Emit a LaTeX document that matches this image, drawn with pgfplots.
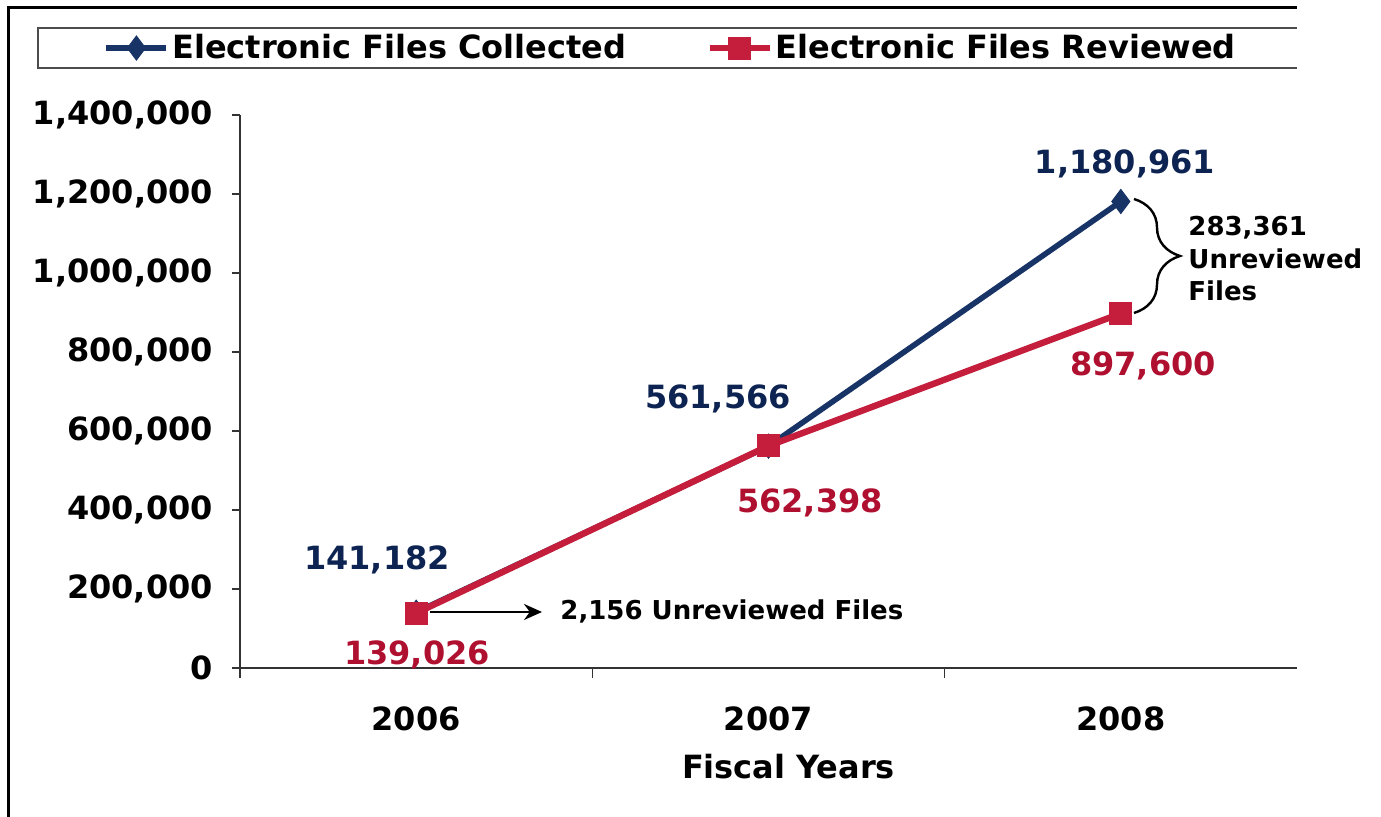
\documentclass[border=0pt]{standalone}
\usepackage{pgfplots}
\pgfplotsset{compat=1.18}
\usepackage{fontspec}
\setmainfont{DejaVu Sans}
\usetikzlibrary{decorations.pathreplacing,arrows.meta}
\definecolor{navyline}{HTML}{183366}
\definecolor{navytext}{HTML}{0D2452}
\definecolor{redline}{HTML}{C41E3C}
\definecolor{redtext}{HTML}{B01030}
\newcommand{\bigf}{\bfseries\fontsize{16pt}{19pt}\selectfont}
\newcommand{\smallf}{\bfseries\fontsize{13pt}{16.25pt}\selectfont}
\pgfplotstableread{
x y
0 141182
1 561566
2 1180961
}\collected
\pgfplotstableread{
x y
0 139026
1 562398
2 897600
}\reviewed
\begin{document}
\begin{tikzpicture}
\path[use as bounding box] (0,0) rectangle (690.5pt,408.5pt);
% outer frame
\draw[line width=1.5pt] (4pt,0pt) -- (4pt,404.5pt) -- (648.5pt,404.5pt);
% legend box
\draw[line width=0.8pt, black!70] (648.5pt,394.5pt) -- (19pt,394.5pt) -- (19pt,374.5pt) -- (648.5pt,374.5pt);
\begin{axis}[
  at={(120pt,74.5pt)}, anchor=south west,
  width=528.5pt, height=276.5pt, scale only axis,
  xmin=-0.5, xmax=2.5, ymin=0, ymax=1400000,
  axis lines*=left,
  axis line style={line width=0.8pt, black!80},
  xtick={0,1,2}, xticklabels={2006,2007,2008},
  minor xtick={-0.5,0.5,1.5},
  major x tick style={draw=none},
  minor tick length=5pt,
  minor tick style={line width=0.8pt, black!80},
  ytick={0,200000,400000,600000,800000,1000000,1200000,1400000},
  ytick style={line width=0.8pt, black!80},
  tick align=outside,
  major tick length=4pt,
  scaled y ticks=false,
  /pgf/number format/.cd, fixed, precision=0, 1000 sep={,}, assume math mode=true,
  /pgfplots/.cd,
  ticklabel style={font=\bigf},
  yticklabel style={xshift=-6pt},
  xticklabel style={yshift=-12pt},
  xlabel={Fiscal Years},
  xlabel style={font=\bigf, xshift=10pt, yshift=-4.5pt},
  legend columns=2,
  legend style={at={(0.408,1.121)}, anchor=center, draw=none, fill=none, font=\bigf,
    /tikz/every even column/.append style={column sep=38.5pt},
    nodes={inner xsep=1.5pt}},
  legend image code/.code={\draw[mark repeat=2,mark phase=2,#1] plot coordinates {(0pt,0pt) (15pt,0pt) (30pt,0pt)};},
  clip=false,
]
\addplot[navyline, line width=2.8pt, mark=diamond*, mark size=6pt, mark options={line width=0.5pt, solid}] table {\collected};
\addlegendentry{Electronic Files Collected}
\addplot[redline, line width=3.2pt, mark=square*, mark size=5.5pt, mark options={line width=0.5pt, solid}] table {\reviewed};
\addlegendentry{Electronic Files Reviewed}
\end{axis}
% data labels
\node[font=\bigf, text=navytext, anchor=base] at (562.5pt,321.75pt) {1,180,961};
\node[font=\bigf, text=redtext, anchor=base] at (571.5pt,220.75pt) {897,600};
\node[font=\bigf, text=navytext, anchor=base] at (359pt,204.25pt) {561,566};
\node[font=\bigf, text=redtext, anchor=base] at (405pt,152.25pt) {562,398};
\node[font=\bigf, text=navytext, anchor=base] at (188.5pt,123.75pt) {141,182};
\node[font=\bigf, text=redtext, anchor=base] at (208.5pt,76.25pt) {139,026};
% annotations
\draw[line width=1.2pt, -{Stealth[length=9pt,width=8pt]}] (215pt,102.5pt) -- (271pt,102.5pt);
\node[font=\smallf, anchor=base west, inner sep=0pt] at (280pt,98.75pt) {2,156 Unreviewed Files};
\draw[line width=1.2pt, decorate, decoration={brace, amplitude=23pt}] (567pt,309pt) -- (567pt,252pt);
\node[font=\smallf, anchor=base west, inner sep=0pt] at (594pt,290.75pt) {283,361};
\node[font=\smallf, anchor=base west, inner sep=0pt] at (594pt,274.25pt) {Unreviewed};
\node[font=\smallf, anchor=base west, inner sep=0pt] at (594pt,258.25pt) {Files};
\end{tikzpicture}
\end{document}
